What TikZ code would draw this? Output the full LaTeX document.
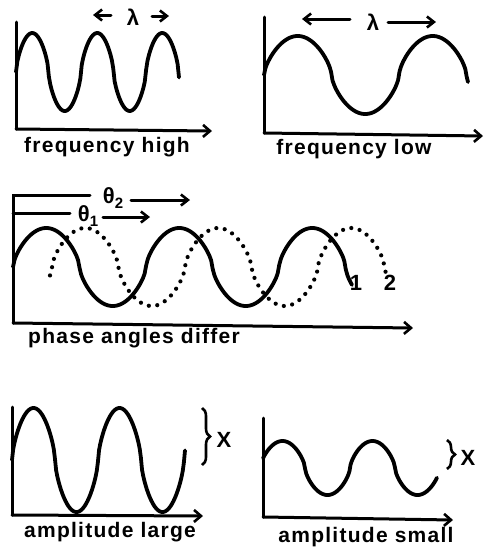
\documentclass[tikz,border=0pt]{standalone}
\usepackage{fontspec}
\newfontfamily\labfont[LetterSpace=6]{Liberation Sans}
\newfontfamily\symfont{Liberation Sans}
\usetikzlibrary{arrows.meta,decorations.pathreplacing}
\begin{document}
\begin{tikzpicture}[x=1pt,y=-1pt,
  declare function={sq(\t)=sign(sin(\t))*pow(abs(sin(\t))+0.0001,0.65);},
  wave/.style={line width=3.8pt, line cap=round, line join=round},
  dotwave/.style={line width=4.2pt, line cap=round, dash pattern=on 0pt off 8.5pt},
  axis/.style={line width=3pt, line cap=round, -{Straight Barb[length=7pt,width=12pt,line width=2.6pt]}},
  plainline/.style={line width=3pt, line cap=round},
  arr/.style={line width=3pt, line cap=round, -{Straight Barb[length=7pt,width=11pt,line width=2.6pt]}},
  lab/.style={font=\labfont\bfseries\fontsize{21}{22}\selectfont, inner sep=0pt},
  sym/.style={font=\symfont\bfseries\fontsize{22}{23}\selectfont, inner sep=0pt},
  brace/.style={line width=2.6pt, decorate, decoration={brace, amplitude=8pt}}]
\useasboundingbox (0,0) rectangle (485,547);

% ---------- panel 1: frequency high
\coordinate (o1) at (16,129);
\coordinate (t1) at (16,22);
\coordinate (e1) at (212,131);
\draw[plainline] (t1) -- (o1);
\draw[axis] (o1) -- (e1);
\draw[wave] plot[domain=16:179, samples=120] (\x, {72-39*sq((\x-16)/65*360)});
\node[sym] (lam1) at (133,17) {λ};
\coordinate (l1a) at (111,15);
\coordinate (l1b) at (93,15);
\coordinate (r1a) at (152,16);
\coordinate (r1b) at (169,16);
\draw[arr] (l1a) -- (l1b);
\draw[arr] (r1a) -- (r1b);
\node[lab] (txt1) at (107,147) {frequency high};

% ---------- panel 2: frequency low
\coordinate (o2) at (264,133);
\coordinate (t2) at (264,17);
\coordinate (e2) at (483,136);
\draw[plainline] (t2) -- (o2);
\draw[axis] (o2) -- (e2);
\draw[wave] plot[domain=264:468, samples=150] (\x, {75-39*sq((\x-264)/135*360)});
\node[sym] (lam2) at (373,22) {λ};
\coordinate (l2a) at (350,19);
\coordinate (l2b) at (302,19);
\coordinate (r2a) at (388,22);
\coordinate (r2b) at (436,22);
\draw[arr] (l2a) -- (l2b);
\draw[arr] (r2a) -- (r2b);
\node[lab] (txt2) at (354,149) {frequency low};

% ---------- panel 3: phase angles differ
\coordinate (o3) at (13,323);
\coordinate (t3) at (13,195);
\coordinate (e3) at (413,328);
\draw[plainline] (o3) -- (t3) -- (90,195);
\draw[axis] (o3) -- (e3);
\node[sym] (th2) at (113,198) {θ\raisebox{-0.4ex}{\fontsize{15}{16}\selectfont 2}};
\coordinate (a2s) at (131,200);
\coordinate (a2e) at (190,200);
\draw[arr] (a2s) -- (a2e);
\coordinate (b1s) at (13,213);
\coordinate (b1e) at (70,213);
\draw[plainline] (b1s) -- (b1e);
\node[sym] (th1) at (88,216) {θ\raisebox{-0.4ex}{\fontsize{15}{16}\selectfont 1}};
\coordinate (a1s) at (103,217);
\coordinate (a1e) at (150,217);
\draw[arr] (a1s) -- (a1e);
\draw[wave] plot[domain=13:352, samples=220] (\x, {267-39*sq((\x-13)/133*360)});
\draw[dotwave] plot[domain=50:386, samples=220] (\x, {267-39*sq((\x-52)/133*360)});
\node[sym] (n1) at (356,283) {1};
\node[sym] (n2) at (390,283) {2};
\node[lab] (txt3) at (134,338) {phase angles differ};

% ---------- panel 4: amplitude large
\coordinate (o4) at (12,515);
\coordinate (t4) at (12,407);
\coordinate (e4) at (203,516);
\draw[plainline] (t4) -- (o4);
\draw[axis] (o4) -- (e4);
\draw[wave] plot[domain=12:185, samples=150] (\x, {460-52*sq((\x-12)/86*360)});
\coordinate (br4a) at (202,408);
\coordinate (br4b) at (202,465);
\draw[brace] (br4a) -- (br4b);
\node[sym] (x4) at (224,440) {X};
\node[lab] (txt4) at (110,532) {amplitude large};

% ---------- panel 5: amplitude small
\coordinate (o5) at (263,517);
\coordinate (t5) at (263,418);
\coordinate (e5) at (453,520);
\draw[plainline] (t5) -- (o5);
\draw[axis] (o5) -- (e5);
\draw[wave] plot[domain=263:437, samples=150] (\x, {468-27*sq((\x-260)/90*360)});
\coordinate (br5a) at (447,440);
\coordinate (br5b) at (447,469);
\draw[brace] (br5a) -- (br5b);
\node[sym] (x5) at (468,458) {X};
\node[lab] (txt5) at (366,537) {amplitude small};
\end{tikzpicture}
\end{document}
